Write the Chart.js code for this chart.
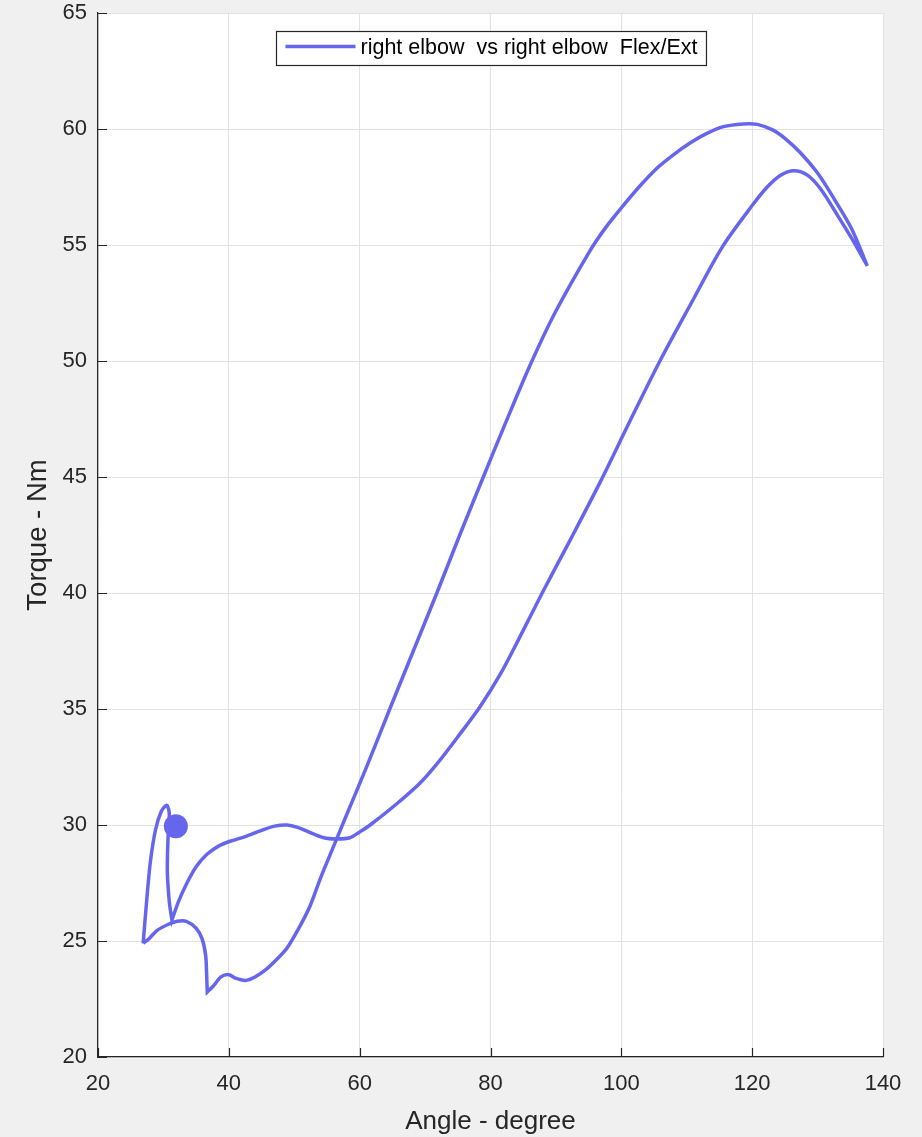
<!DOCTYPE html>
<html>
<head>
<meta charset="utf-8">
<script src="https://cdn.jsdelivr.net/npm/chart.js@4.4.0/dist/chart.umd.min.js"></script>
<style>
  html,body{margin:0;padding:0;background:#f0f0f0;}
  #wrap{width:922px;height:1137px;}
</style>
</head>
<body>
<div id="wrap"><canvas id="c" width="922" height="1137"></canvas></div>
<script>
// torque vs angle trace, in drawing order (vertex points repeated where the trace turns sharply)
const angle = [
  26.9, 26.9, 27.4, 28.0, 28.8, 29.7, 30.5, 30.9, 30.7, 30.6, 30.9, 31.3, 31.3,
  32.3, 33.6, 35.0, 36.7, 38.5, 40.2, 42.5, 44.8, 47.0, 48.9, 50.5, 52.2, 54.5,
  56.5, 58.5, 60.0, 61.6, 65.4, 69.2, 72.0, 75.0, 78.4, 81.5, 84.3, 87.9, 92.4, 96.8,
  101.3, 105.9, 110.7, 115.4, 120.0, 122.3, 124.3, 126.4, 128.5, 130.5, 133.0,
  135.4, 137.6, 137.6,
  135.2, 132.5, 130.0, 127.3, 125.0, 123.2, 120.8, 118.6, 115.6, 113.0, 110.5,
  108.0, 105.4, 102.7, 100.0, 97.6, 95.2, 89.9, 86.1, 82.4, 78.9, 75.3,
  71.8, 68.2, 64.6, 61.2, 57.8,
  55.9, 54.0, 52.4, 50.6, 48.9, 47.3, 45.8, 44.0, 42.5, 41.0, 40.0, 38.8, 37.6,
  36.7, 36.7, 36.6, 36.45, 35.9, 35.0, 33.5, 32.1, 30.6, 29.0, 27.8, 26.9, 26.9
];
const torque = [
  24.9, 24.9, 26.6, 28.4, 29.8, 30.6, 30.85, 30.5, 29.4, 28.0, 26.7, 25.9, 25.9,
  26.7, 27.5, 28.2, 28.75, 29.1, 29.3, 29.5, 29.75, 29.95, 30.0, 29.9, 29.7, 29.45,
  29.4, 29.45, 29.7, 30.0, 30.85, 31.8, 32.7, 33.8, 35.1, 36.5, 38.0, 40.0, 42.4, 44.8,
  47.4, 50.0, 52.5, 54.9, 56.7, 57.5, 58.0, 58.2, 58.0, 57.4, 56.3,
  55.2, 54.1, 54.1,
  55.7, 57.0, 58.1, 59.0, 59.6, 59.95, 60.2, 60.22, 60.1, 59.8, 59.4,
  58.9, 58.3, 57.5, 56.6, 55.75, 54.75, 52.1, 49.85, 47.4, 45.0, 42.5,
  40.0, 37.5, 35.0, 32.6, 30.3,
  29.0, 27.7, 26.5, 25.5, 24.7, 24.2, 23.8, 23.45, 23.3, 23.4, 23.55, 23.45, 23.05,
  22.8, 22.8, 23.6, 24.4, 25.1, 25.55, 25.85, 25.85, 25.7, 25.45, 25.1, 24.9, 24.9
];
// current position marker
const markerAngle = [31.9];
const markerTorque = [29.95];

const xTicks = [20, 40, 60, 80, 100, 120, 140];
const yTicks = [20, 25, 30, 35, 40, 45, 50, 55, 60, 65];

const seriesLabel = 'right elbow  vs right elbow  Flex/Ext';
const lineColor = '#6565ee';
const axisColor = '#262626';
const fontFamily = '"Liberation Sans", Arial, Helvetica, sans-serif';

const trace = angle.map((a, i) => ({x: a, y: torque[i]}));
const marker = markerAngle.map((a, i) => ({x: a, y: markerTorque[i]}));

// white plot area on grey figure
const plotBg = {
  id: 'plotBg',
  beforeDraw(chart){
    const {ctx, chartArea: a} = chart;
    ctx.save();
    ctx.fillStyle = '#ffffff';
    ctx.fillRect(a.left, a.top, a.right - a.left, a.bottom - a.top);
    ctx.restore();
  }
};

// matlab style ticks pointing into the axes
const inwardTicks = {
  id: 'inwardTicks',
  beforeDatasetsDraw(chart){
    const {ctx, chartArea: a, scales} = chart;
    const len = 9;
    ctx.save();
    ctx.strokeStyle = axisColor;
    ctx.lineWidth = 1.2;
    ctx.beginPath();
    xTicks.forEach(v=>{
      const px = Math.round(scales.x.getPixelForValue(v)) + 0.5;
      ctx.moveTo(px, a.bottom);
      ctx.lineTo(px, a.bottom - len);
    });
    yTicks.forEach(v=>{
      const py = Math.round(scales.y.getPixelForValue(v)) + 0.5;
      ctx.moveTo(a.left, py);
      ctx.lineTo(a.left + len, py);
    });
    ctx.stroke();
    ctx.restore();
  }
};

// boxed legend inside the top of the axes
const boxLegend = {
  id: 'boxLegend',
  afterDraw(chart){
    const {ctx, chartArea: a} = chart;
    const ds = chart.data.datasets.find(d => d.label);
    ctx.save();
    ctx.font = '21.5px ' + fontFamily;
    const tw = ctx.measureText(ds.label).width;
    const sample = 70, padL = 9, gap = 5, padR = 9;
    const w = padL + sample + gap + tw + padR;
    const h = 34;
    const cx = (a.left + a.right) / 2;
    const x0 = Math.round(cx - w / 2) + 0.5;
    const y0 = Math.round(a.top + 18) + 0.5;
    ctx.fillStyle = '#ffffff';
    ctx.fillRect(x0, y0, w, h);
    ctx.strokeStyle = axisColor;
    ctx.lineWidth = 1.2;
    ctx.strokeRect(x0, y0, w, h);
    ctx.strokeStyle = ds.borderColor;
    ctx.lineWidth = 3.5;
    ctx.beginPath();
    ctx.moveTo(x0 + padL, y0 + h / 2 - 2);
    ctx.lineTo(x0 + padL + sample, y0 + h / 2 - 2);
    ctx.stroke();
    ctx.fillStyle = '#000000';
    ctx.textBaseline = 'middle';
    ctx.fillText(ds.label, x0 + padL + sample + gap, y0 + h / 2);
    ctx.restore();
  }
};

new Chart(document.getElementById('c').getContext('2d'), {
  type: 'scatter',
  data: {
    datasets: [
      {
        data: marker,
        pointRadius: 12,
        pointHoverRadius: 12,
        backgroundColor: lineColor,
        borderWidth: 0,
        showLine: false,
        order: 0
      },
      {
        label: seriesLabel,
        data: trace,
        showLine: true,
        borderColor: lineColor,
        backgroundColor: lineColor,
        borderWidth: 3.5,
        pointRadius: 0,
        tension: 0.3,
        fill: false,
        order: 1
      }
    ]
  },
  options: {
    responsive: false,
    animation: false,
    layout: { padding: { top: 0, right: 39, left: 0, bottom: 0 } },
    plugins: {
      legend: { display: false },
      tooltip: { enabled: false }
    },
    scales: {
      x: {
        type: 'linear',
        min: 20, max: 140,
        afterBuildTicks: s => { s.ticks = xTicks.map(v => ({value: v})); },
        afterFit: s => { s.height = 80; },
        ticks: { color: axisColor, font: { family: fontFamily, size: 22 }, padding: 14, maxRotation: 0 },
        grid: { color: '#e2e2e2', drawTicks: false, lineWidth: 1 },
        border: { color: axisColor, width: 1.2 },
        title: { display: true, text: 'Angle - degree', color: axisColor,
                 font: { family: fontFamily, size: 26 }, padding: { top: 0, bottom: 0 } }
      },
      y: {
        type: 'linear',
        min: 20, max: 65,
        afterBuildTicks: s => { s.ticks = yTicks.map(v => ({value: v})); },
        afterFit: s => { s.width = 98; s.paddingTop = 13; s.paddingBottom = 13; },
        ticks: { color: axisColor, font: { family: fontFamily, size: 22 }, padding: 11 },
        grid: { color: '#e2e2e2', drawTicks: false, lineWidth: 1 },
        border: { color: axisColor, width: 1.2 },
        title: { display: true, text: 'Torque - Nm', color: axisColor,
                 font: { family: fontFamily, size: 27.5 }, padding: { top: 22, bottom: 0 } }
      }
    }
  },
  plugins: [plotBg, inwardTicks, boxLegend]
});
</script>
</body>
</html>
